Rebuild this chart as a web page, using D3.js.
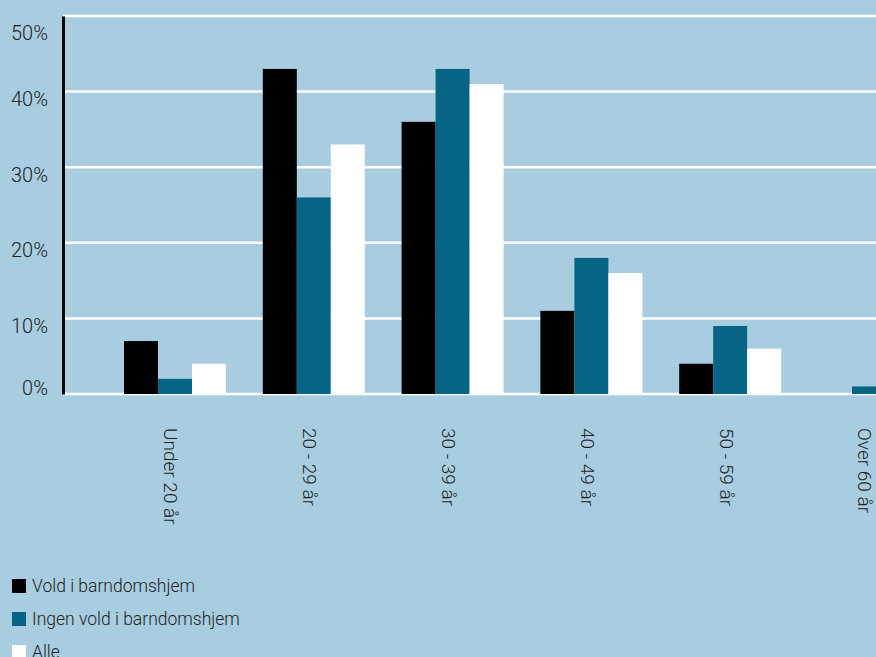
<!DOCTYPE html>
<html><head><meta charset="utf-8">
<script src="https://cdn.jsdelivr.net/npm/d3@7"></script>
<style>
html,body{margin:0;padding:0;background:#a8cde0;}
svg{display:block;}
text{font-family:Roboto,"Open Sans",sans-serif;font-weight:400;fill:#222;}
</style></head><body>
<svg id="c" width="876" height="657"></svg>
<script>
const categories = ["Under 20 år","20 - 29 år","30 - 39 år","40 - 49 år","50 - 59 år","Over 60 år"];
const seriesNames = ["Vold i barndomshjem","Ingen vold i barndomshjem","Alle"];
const vold = [7, 43, 36, 11, 4, 0];
const ingen = [2, 26, 43, 18, 9, 1];
const alle = [4, 33, 41, 16, 6, 0];
const yTicks = [0, 10, 20, 30, 40, 50];
const colors = ["#000000", "#066485", "#ffffff"];

const series = [vold, ingen, alle];
const svg = d3.select("#c");
const W = 876, H = 657;
const axisX = 63;
const y = d3.scaleLinear().domain([0, 50]).range([394, 16]);
const x0 = d3.scaleBand().domain(categories).range([105.6, 105.6 + 6 * 138.8]).paddingInner(0).paddingOuter(0);
const x1 = d3.scaleBand().domain([0, 1, 2]).range([0, 102]);

svg.append("rect").attr("width", W).attr("height", H).attr("fill", "#a8cde0");

// gridlines
svg.append("g").selectAll("line").data(yTicks).join("line")
  .attr("x1", axisX).attr("x2", W)
  .attr("y1", d => y(d)).attr("y2", d => y(d))
  .attr("stroke", "#ffffff").attr("stroke-width", 2.5);

// bars
const g = svg.append("g");
categories.forEach((c, i) => {
  const left = x0(c) + x0.bandwidth() / 2 - 51;
  series.forEach((s, j) => {
    if (s[i] <= 0) return;
    g.append("rect")
      .attr("x", left + x1(j))
      .attr("width", x1.bandwidth())
      .attr("y", y(s[i]))
      .attr("height", y(0) - y(s[i]))
      .attr("fill", colors[j]);
  });
});

// y axis
const labelShift = d => d === 0 ? -7 : (d === 50 ? 16 : 7);
const yAxis = d3.axisLeft(y).tickValues(yTicks).tickSize(0).tickPadding(15).tickFormat(d => d + "%");
const ya = svg.append("g").attr("transform", `translate(${axisX},0)`).call(yAxis);
ya.select(".domain").attr("stroke", "#000").attr("stroke-width", 3);
ya.selectAll(".tick text").style("font-size", "20px").attr("dy", "0.35em").attr("fill", "#222")
  .style("font-family", "Roboto,sans-serif").style("font-weight", "300")
  .attr("y", d => labelShift(d));

// x labels
const xAxis = d3.axisBottom(x0).tickSize(0);
const xa = svg.append("g").attr("transform", "translate(0,394)").call(xAxis);
xa.select(".domain").remove();
xa.selectAll("text")
  .style("font-size", "19px")
  .style("font-family", "Roboto,sans-serif").style("font-weight", "300")
  .attr("fill", "#111")
  .attr("text-anchor", "start")
  .attr("transform", "rotate(90)")
  .attr("x", 34).attr("y", 4).attr("dy", "0.35em");

// legend
const lg = svg.append("g");
seriesNames.forEach((n, j) => {
  const cy = 586 + j * 33;
  lg.append("rect").attr("x", 12).attr("y", cy - 7).attr("width", 14).attr("height", 14).attr("fill", colors[j]);
  lg.append("text").attr("x", 32).attr("y", cy).attr("dy", "0.36em").style("font-size", "17.5px")
    .style("font-weight", "300").attr("fill", "#111").text(n);
});
</script>
</body></html>
